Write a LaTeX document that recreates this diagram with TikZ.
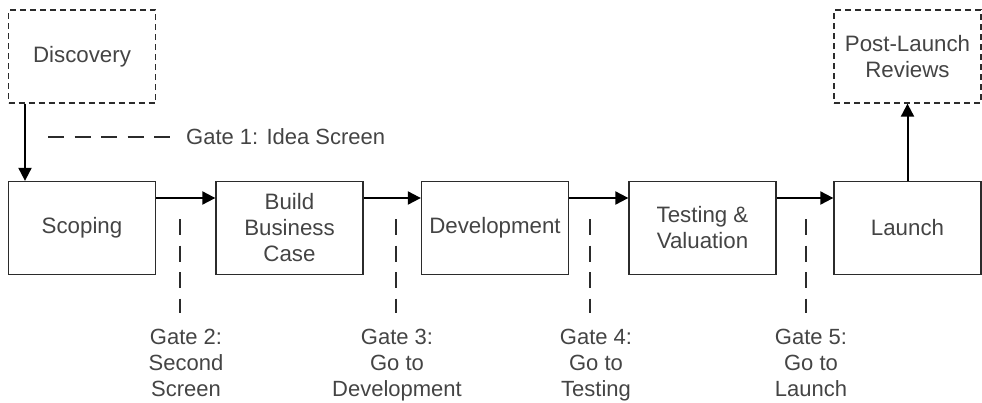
\documentclass[tikz,border=0pt]{standalone}
\usepackage{fontspec}
\setmainfont{Liberation Sans}
\usetikzlibrary{arrows.meta}
\definecolor{txtgray}{HTML}{444444}
\definecolor{linegray}{HTML}{2B2B2B}
\begin{document}
\begin{tikzpicture}[x=1pt,y=-1pt,
	stage/.style={draw=linegray,line width=1.3pt,minimum width=147pt,minimum height=93pt,inner sep=2pt,align=center,text=txtgray,font=\fontsize{22.3}{26}\selectfont},
	optstage/.style={stage,dash pattern=on 6pt off 4pt},
	flow/.style={line width=2pt,-{Triangle[length=13pt,width=13pt]}},
	gatedash/.style={draw=linegray,line width=2pt,dash pattern=on 16pt off 10.5pt},
	gatelbl/.style={align=center,text=txtgray,inner sep=0pt,font=\fontsize{22}{26}\selectfont}]
		\useasboundingbox (0,0) rectangle (982,402);
		\node[optstage] (disc) at (82,56.5) {Discovery};
		\node[optstage] (post) at (907.5,56.5) {Post-Launch\\Reviews};
		\node[stage] (scop) at (82,228) {Scoping};
		\node[stage] (bbc) at (289.5,228) {Build\\Business\\Case};
		\node[stage] (dev) at (495,228) {Development};
		\node[stage] (test) at (702.5,228) {Testing \&\\Valuation};
		\node[stage] (laun) at (907.5,228) {Launch};
		\draw[flow] ([xshift=-57pt]disc.south) -- ([xshift=-57pt]scop.north);
		\draw[flow] ([yshift=30pt]scop.east) -- ([yshift=30pt]bbc.west);
		\draw[flow] ([yshift=30pt]bbc.east) -- ([yshift=30pt]dev.west);
		\draw[flow] ([yshift=30pt]dev.east) -- ([yshift=30pt]test.west);
		\draw[flow] ([yshift=30pt]test.east) -- ([yshift=30pt]laun.west);
		\draw[flow] (laun) -- (post);
		% gate 1
		\coordinate (g1) at (48,137);
		\node[gatelbl,anchor=west] (gate1) at (186,137) {Gate 1: Idea Screen};
		\draw[gatedash] (g1) -- ([xshift=-16pt]gate1.west);
		% gates 2 to 5
		\foreach \x/\tx/\lbl/\n in {180/186/{Gate 2:\\Second\\Screen}/2,396/397/{Gate 3:\\Go to\\Development}/3,590/596/{Gate 4:\\Go to\\Testing}/4,806/811/{Gate 5:\\Go to\\Launch}/5}{
			\coordinate (gt\n) at (\x,219);
			\node[gatelbl,anchor=north] (gate\n) at (\tx,329) {\lbl};
			\draw[gatedash,shorten >=16pt] (gt\n) -- (gate\n.north -| gt\n);
		}
	\end{tikzpicture}
\end{document}
